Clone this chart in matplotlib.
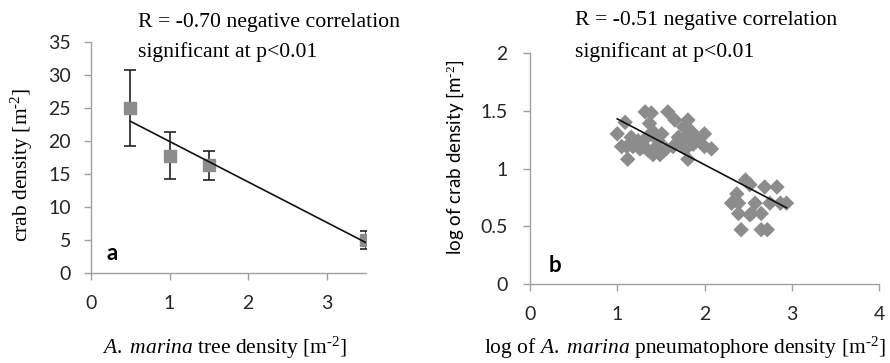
import matplotlib
matplotlib.use("Agg")
import matplotlib.pyplot as plt
import numpy as np

plt.rcParams['mathtext.fontset'] = 'custom'
plt.rcParams['mathtext.rm'] = 'Liberation Serif'
plt.rcParams['mathtext.it'] = 'Liberation Serif:italic'

# Panel a data
tree_density = [0.5, 1.0, 1.5, 3.5]
crab_density = [25.0, 17.8, 16.3, 5.0]
crab_err = [5.7, 3.5, 2.2, 1.4]
trend_a_x = [0.5, 3.5]
trend_a_y = [23.0, 4.6]

# Panel b data
log_pneu = [1.00, 1.09, 1.05, 1.12, 1.16, 1.11, 1.18, 1.24, 1.32, 1.39, 1.37, 1.41,
            1.34, 1.30, 1.35, 1.41, 1.49, 1.51, 1.47, 1.45, 1.56, 1.26,
            1.58, 1.66, 1.64, 1.70, 1.76, 1.81, 1.79, 1.74, 1.81, 1.81, 1.85,
            1.91, 2.00, 2.00, 2.08, 1.87, 1.78,
            2.47, 2.52, 2.37, 2.39, 2.31, 2.39, 2.54, 2.58, 2.69, 2.83, 2.75,
            2.87, 2.94, 2.65, 2.42, 2.65, 2.72, 2.52]
log_crab = [1.30, 1.40, 1.19, 1.08, 1.27, 1.19, 1.19, 1.24, 1.49, 1.48, 1.39, 1.32,
            1.27, 1.19, 1.16, 1.12, 1.12, 1.30, 1.24, 1.19, 1.17, 1.17,
            1.49, 1.42, 1.19, 1.27, 1.36, 1.42, 1.27, 1.21, 1.19, 1.08, 1.32,
            1.24, 1.30, 1.19, 1.17, 1.21, 1.17,
            0.90, 0.86, 0.78, 0.70, 0.70, 0.61, 0.61, 0.70, 0.84, 0.84, 0.70,
            0.70, 0.70, 0.61, 0.47, 0.47, 0.47, 0.60]
trend_b_x = [1.0, 2.94]
trend_b_y = [1.43, 0.66]

W, H = 890, 363
fig = plt.figure(figsize=(W / 100, H / 100), dpi=100)

def px_axes(l, t, r, b):
    return fig.add_axes([l / W, 1 - b / H, (r - l) / W, (b - t) / H])

gray = '#8c8c8c'
spine_c = '#a0a0a0'
sans = 'Lato'
serif = 'Liberation Serif'
sup = r'$^{\text{-}2}$'

def style(ax, ypad):
    for s in ['top', 'right']:
        ax.spines[s].set_visible(False)
    for s in ['left', 'bottom']:
        ax.spines[s].set_color(spine_c)
        ax.spines[s].set_linewidth(1.0)
    ax.tick_params(axis='both', direction='out', colors=spine_c, labelcolor='#262626',
                   length=5, width=1.0, labelsize=14)
    ax.tick_params(axis='x', pad=11)
    ax.tick_params(axis='y', pad=ypad)
    for lab in ax.get_xticklabels() + ax.get_yticklabels():
        lab.set_family(sans)

# Panel a
ax1 = px_axes(91, 42, 366, 273)
ax1.errorbar(tree_density, crab_density, yerr=crab_err, fmt='s', color=gray,
             ms=9, ecolor='#222222', elinewidth=1.2, capsize=4, capthick=1.2, zorder=2)
ax1.plot(trend_a_x, trend_a_y, color='#111111', lw=1.2, zorder=3)
ax1.set_xlim(0, 3.5)
ax1.set_ylim(0, 35)
ax1.set_xticks([0, 1, 2, 3])
ax1.set_yticks(range(0, 36, 5))
style(ax1, 9.5)
ax1.set_ylabel('crab density [m' + sup + ']', fontsize=15.5, family=serif, va='center')
ax1.yaxis.set_label_coords(-0.251, 0.468)
ax1.set_xlabel(r'$\mathit{A.\ marina}$ tree density [m' + sup + ']', fontsize=15.5,
               family=serif, va='center')
ax1.xaxis.set_label_coords(0.484, -0.325)
ax1.text(0.27, 3.0, 'a', fontsize=16, fontweight='bold', family=sans, va='center', ha='center')

# Panel b
ax2 = px_axes(530, 53, 879, 284)
ax2.scatter(log_pneu, log_crab, marker='D', s=62, color=gray, edgecolors='none', zorder=2)
ax2.plot(trend_b_x, trend_b_y, color='#111111', lw=1.2, zorder=3)
ax2.set_xlim(0, 4)
ax2.set_ylim(0, 2)
ax2.set_xticks([0, 1, 2, 3, 4])
ax2.set_yticks([0, 0.5, 1, 1.5, 2])
ax2.set_yticklabels(['0', '0.5', '1', '1.5', '2'])
style(ax2, 11)
ax2.set_ylabel('log of crab density [m' + sup + ']', fontsize=13.5, family=sans, va='center')
ax2.yaxis.set_label_coords(-0.215, 0.55)
ax2.set_xlabel(r'log of $\mathit{A.\ marina}$ pneumatophore density [m' + sup + ']',
               fontsize=15.5, family=serif, va='center')
ax2.xaxis.set_label_coords(0.444, -0.277)
ax2.text(0.29, 0.16, 'b', fontsize=16, fontweight='bold', family=sans, va='center', ha='center')

fig.text(138 / W, 1 - 23 / H, 'R = -0.70 negative correlation', fontsize=15.7,
         family=serif, va='center')
fig.text(138 / W, 1 - 52 / H, 'significant at p<0.01', fontsize=15.7,
         family=serif, va='center')
fig.text(575 / W, 1 - 21 / H, 'R = -0.51 negative correlation', fontsize=15.7,
         family=serif, va='center')
fig.text(575 / W, 1 - 52 / H, 'significant at p<0.01', fontsize=15.7,
         family=serif, va='center')

fig.savefig('out.png', dpi=100)
